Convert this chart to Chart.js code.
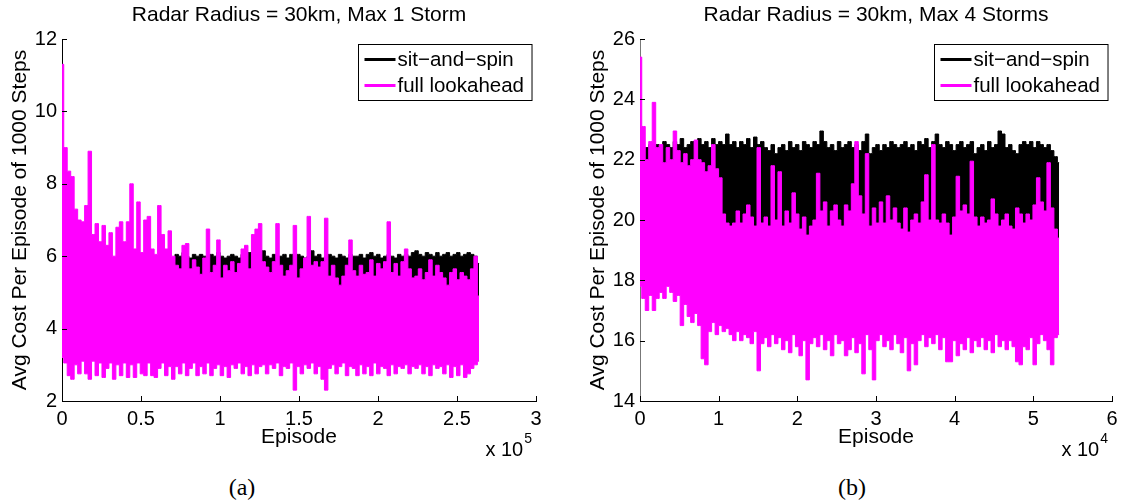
<!DOCTYPE html>
<html>
<head>
<meta charset="utf-8">
<script src="https://cdn.jsdelivr.net/npm/chart.js@4.4.1/dist/chart.umd.min.js"></script>
<style>
  body { margin: 0; background: #fff; width: 1123px; height: 503px; position: relative; overflow: hidden; }
  canvas { position: absolute; top: 0; }
  #chartA { left: 0; }
  #chartB { left: 578px; }
  .cap { position: absolute; top: 474px; width: 60px; margin-left: -30px; text-align: center;
         font-family: "Liberation Serif", "DejaVu Serif", serif; font-size: 24px; line-height: 26px; }
</style>
</head>
<body>
<canvas id="chartA" width="560" height="460"></canvas>
<canvas id="chartB" width="560" height="460"></canvas>
<div class="cap" style="left:242px">(a)</div>
<div class="cap" style="left:852px">(b)</div>

<script>
const seriesNames = ['sit−and−spin', 'full lookahead'];
const yTitle = 'Avg Cost Per Episode of 1000 Steps';

// (a) Max 1 Storm: one sample every 2200 episodes
const stepA = 2200;
const ssTopA = [
  5.8, 5.9, 5.9, 5.9, 5.9, 5.9, 5.9, 5.9, 5.9, 5.9,
  5.9, 5.9, 5.9, 5.9, 5.9, 5.9, 5.9, 5.9, 5.9, 5.9,
  5.9, 5.9, 5.9, 5.9, 5.9, 5.9, 5.9, 5.9, 5.9, 5.9,
  5.9, 5.9, 5.9, 6.05, 6.0, 6.1, 6.0, 5.95, 6.05, 6.0,
  6.05, 6.0, 5.95, 6.05, 6.0, 6.1, 6.0, 5.95, 6.0, 6.05,
  6.0, 5.95, 6.05, 6.0, 6.1, 6.05, 6.0, 6.05, 6.15, 6.0,
  5.95, 6.05, 6.0, 6.0, 6.05, 5.95, 6.05, 6.0, 6.05, 6.0,
  5.95, 6.0, 6.15, 6.0, 6.05, 5.95, 6.0, 6.05, 6.0, 5.95,
  6.05, 6.0, 5.95, 6.05, 6.0, 6.0, 6.05, 5.95, 6.05, 6.1,
  6.0, 6.05, 5.95, 6.0, 6.05, 6.0, 5.95, 6.05, 6.0, 6.05,
  6.0, 6.1, 6.15, 6.05, 6.0, 6.1, 6.05, 6.0, 6.1, 6.0,
  6.05, 6.1, 6.0, 6.05, 6.1, 6.0, 6.05, 6.1, 6.05, 6.0,
  5.8
];
const flTopA = [
  11.3, 9.0, 8.35, 8.2, 7.3, 7.0, 6.95, 7.4, 8.9, 6.6,
  6.9, 6.4, 6.85, 6.3, 6.65, 6.0, 6.8, 6.95, 6.4, 6.95,
  8.0, 6.2, 7.5, 6.1, 7.0, 7.1, 6.2, 6.05, 7.4, 6.6,
  6.2, 6.7, 6.0, 5.75, 5.65, 6.3, 6.35, 5.65, 5.9, 5.7,
  5.5, 5.95, 6.75, 5.55, 5.75, 6.45, 5.4, 5.75, 5.6, 5.85,
  5.55, 5.8, 6.2, 6.3, 5.65, 6.6, 6.75, 6.9, 5.85, 5.7,
  5.55, 5.85, 6.9, 5.75, 5.45, 5.6, 5.75, 6.85, 5.4, 5.65,
  5.95, 7.1, 5.75, 5.85, 5.7, 5.85, 7.05, 5.45, 5.75, 5.4,
  5.2, 5.45, 5.75, 6.45, 5.6, 5.45, 5.75, 5.5, 5.55, 5.9,
  5.45, 5.8, 5.65, 5.85, 6.95, 5.55, 5.8, 5.45, 5.85, 6.2,
  5.65, 5.4, 5.45, 5.65, 5.35, 5.55, 5.9, 5.45, 5.75, 5.55,
  5.4, 5.2, 5.55, 5.65, 5.35, 5.55, 5.45, 5.35, 5.65, 6.0,
  4.9
];
const flLowA = [
  3.2, 3.05, 2.7, 2.6, 3.0, 2.75, 3.1, 2.75, 2.6, 3.1,
  2.7, 3.05, 2.65, 2.9, 3.05, 2.6, 3.0, 2.7, 3.05, 2.65,
  3.0, 2.65, 3.05, 2.75, 2.7, 3.05, 2.7, 2.65, 2.9, 3.05,
  2.7, 2.95, 2.6, 2.95, 2.75, 3.05, 2.7, 2.9, 3.05, 2.7,
  2.95, 2.75, 3.05, 2.7, 2.9, 3.0, 2.7, 2.95, 2.65, 3.0,
  2.9, 3.05, 2.75, 2.95, 2.7, 3.0, 2.75, 2.95, 3.0, 2.75,
  3.0, 2.9, 3.05, 2.7, 2.95, 2.9, 3.05, 2.3, 2.95, 2.75,
  3.0, 2.9, 3.05, 2.75, 2.95, 2.6, 2.3, 2.9, 3.0, 2.75,
  2.95, 3.05, 2.7, 2.95, 2.9, 2.7, 3.0, 2.75, 2.95, 2.7,
  3.05, 2.75, 2.95, 2.9, 2.7, 3.0, 2.75, 2.95, 2.9, 3.0,
  2.75, 2.95, 2.9, 3.0, 2.75, 2.95, 2.7, 3.0, 2.9, 2.95,
  2.75, 3.0, 2.65, 2.95, 2.7, 3.0, 2.65, 2.75, 2.9, 3.0,
  3.1
];
const ssFloorA = 4.0;

// (b) Max 4 Storms: one sample every 444 episodes
const stepB = 444;
const ssTopB = [
  22.1, 22.3, 22.4, 22.5, 22.3, 22.5, 22.4, 22.6, 22.5, 22.4,
  22.6, 22.5, 22.7, 22.4, 22.5, 22.6, 22.4, 22.7, 22.5, 22.6,
  22.4, 22.7, 22.5, 22.6, 22.5, 22.85, 22.5, 22.6, 22.4, 22.6,
  22.5, 22.7, 22.4, 22.75, 22.5, 22.6, 22.4, 22.3, 22.5, 22.2,
  22.4, 22.5, 22.3, 22.6, 22.4, 22.5, 22.3, 22.6, 22.5, 22.4,
  22.6, 22.5, 22.95, 22.6, 22.4, 22.5, 22.3, 22.6, 22.4, 22.5,
  22.6, 22.4, 22.5, 22.3, 22.6, 22.85, 22.2, 22.4, 22.5, 22.3,
  22.5, 22.4, 22.6, 22.5, 22.4, 22.5, 22.6, 22.4, 22.5, 22.3,
  22.6, 22.5, 22.7, 22.4, 22.6, 22.85, 22.5, 22.4, 22.6, 22.5,
  22.3, 22.5, 22.6, 22.4, 22.5, 22.6, 22.2, 22.4, 22.5, 22.3,
  22.6, 22.4, 22.5, 22.95, 22.85, 22.4, 22.5, 22.3, 22.2, 22.5,
  22.6, 22.5, 22.6, 22.4, 22.6, 22.5, 22.4, 22.5, 22.3, 22.1,
  21.9
];
const flTopB = [
  25.4, 23.1, 22.0, 22.6, 23.9, 22.4, 22.5, 21.9, 22.4, 22.0,
  22.95, 22.3, 21.9, 22.2, 21.8, 22.0, 22.65, 22.0, 21.9, 21.6,
  21.8, 22.5, 21.7, 21.4, 20.2, 19.9, 19.8, 19.9, 20.3, 19.9,
  20.2, 20.5, 20.1, 19.8, 22.4, 19.9, 20.1, 19.8, 21.8, 20.0,
  21.6, 19.8, 20.3, 19.9, 20.9, 20.2, 19.7, 20.1, 19.5, 19.8,
  20.0, 21.55, 20.3, 20.6, 19.8, 20.3, 20.5, 20.0, 19.8, 20.5,
  20.3, 21.2, 22.6, 20.8, 20.2, 22.2, 19.8, 20.4, 19.9, 20.6,
  19.9, 20.8, 20.0, 20.4, 19.9, 19.7, 20.4, 19.6, 20.0, 20.2,
  19.9, 20.6, 21.5, 20.0, 22.5, 20.0, 19.9, 20.2, 19.9, 19.5,
  20.1, 21.45, 20.3, 20.5, 20.2, 21.95, 20.1, 19.8, 20.1, 19.9,
  20.0, 20.7, 20.2, 19.8, 20.0, 20.2, 19.8, 19.7, 20.4, 20.2,
  19.9, 20.2, 20.0, 20.5, 21.4, 20.6, 20.3, 21.9, 20.4, 19.7,
  19.4
];
const flLowB = [
  17.8, 17.4, 17.0, 17.5, 17.0, 17.4, 17.6, 17.4, 17.8, 17.6,
  17.3, 17.5, 16.5, 17.2, 16.8, 16.6, 16.9, 16.5, 15.4, 15.2,
  16.3, 16.6, 16.2, 16.5, 16.3, 16.4, 16.2, 16.0, 16.3, 16.0,
  16.2, 16.1, 15.9, 16.3, 15.0, 15.9, 16.1, 15.8, 16.2, 15.9,
  16.1, 15.7, 16.0, 15.6, 16.2, 15.8, 15.5, 16.0, 14.7, 15.9,
  16.1, 15.8, 16.2, 15.7, 16.0, 15.5, 16.2, 15.9, 16.0, 15.5,
  15.7, 16.1, 15.6, 15.9, 14.9, 16.2, 15.7, 14.7, 16.0, 16.2,
  15.8, 16.0, 15.7, 16.2, 15.9, 15.6, 16.1, 15.0, 15.9, 15.2,
  16.0, 16.2, 15.8, 16.1, 15.9, 16.2, 15.7, 16.1, 15.3, 15.3,
  16.0, 15.5, 15.9, 15.7, 16.1, 15.6, 16.0, 15.8, 16.1, 15.7,
  16.0, 15.6, 16.2, 15.8, 16.0, 15.7, 16.0, 15.8, 15.3, 15.2,
  15.8, 15.7, 16.1, 15.2, 15.9, 16.2, 16.0, 15.7, 15.2, 16.1,
  16.2
];
const ssFloorB = 18.5;

const FONT = '"Liberation Sans", Arial, Helvetica, sans-serif';
const MAGENTA = '#ff00ff';

function toPoints(values, step) {
  return values.map((v, i) => ({ x: i * step, y: v }));
}

// inward tick marks, titles, exponent label and the boxed legend
const decor = {
  id: 'decor',
  afterDraw(chart, args, o) {
    const { ctx, chartArea: a, scales: { x, y } } = chart;
    ctx.save();
    ctx.strokeStyle = '#000';
    ctx.lineWidth = 1;
    ctx.beginPath();
    x.ticks.forEach(t => {
      const px = Math.round(x.getPixelForValue(t.value)) + 0.5;
      ctx.moveTo(px, a.bottom);
      ctx.lineTo(px, a.bottom - 5);
    });
    y.ticks.forEach(t => {
      const py = Math.round(y.getPixelForValue(t.value)) + 0.5;
      ctx.moveTo(a.left, py);
      ctx.lineTo(a.left + 5, py);
    });
    ctx.stroke();

    const cx = (a.left + a.right) / 2;
    ctx.fillStyle = '#000';
    ctx.font = '21px ' + FONT;
    ctx.textAlign = 'center';
    ctx.textBaseline = 'middle';
    ctx.fillText(o.title, cx, 15);
    ctx.fillText('Episode', cx, 437);

    // x 10^n
    ctx.textAlign = 'right';
    ctx.textBaseline = 'alphabetic';
    ctx.font = '14px ' + FONT;
    ctx.fillText(o.exponent, a.right - 4, 443);
    const ew = ctx.measureText(o.exponent).width;
    ctx.font = '20px ' + FONT;
    ctx.fillText('x 10', a.right - 4 - ew - 1, 456);

    ctx.save();
    ctx.font = '21px ' + FONT;
    ctx.translate(a.left - 42, (a.top + a.bottom) / 2);
    ctx.rotate(-Math.PI / 2);
    ctx.textAlign = 'center';
    ctx.textBaseline = 'middle';
    ctx.fillText(yTitle, 0, 0);
    ctx.restore();

    // legend box
    ctx.font = '20.5px ' + FONT;
    const tw = Math.max(...seriesNames.map(n => ctx.measureText(n).width));
    const w = tw + 47, h = 56;
    const bx = Math.round(a.right - 4 - w) + 0.5, by = Math.round(a.top + 5) + 0.5;
    ctx.fillStyle = '#fff';
    ctx.fillRect(bx, by, w, h);
    ctx.strokeStyle = '#000';
    ctx.lineWidth = 1;
    ctx.strokeRect(bx, by, w, h);
    const colors = ['#000', MAGENTA];
    seriesNames.forEach((n, i) => {
      const ly = by + 15 + i * 26;
      ctx.strokeStyle = colors[i];
      ctx.lineWidth = 3;
      ctx.beginPath();
      ctx.moveTo(bx + 6, ly);
      ctx.lineTo(bx + 37, ly);
      ctx.stroke();
      ctx.fillStyle = '#000';
      ctx.textAlign = 'left';
      ctx.textBaseline = 'middle';
      ctx.fillText(n, bx + 39, ly + 1);
    });
    ctx.restore();
  }
};

function makeChart(id, p) {
  const tickFont = { family: FONT, size: 20 };
  const band = { borderWidth: 1, pointRadius: 0, stepped: 'middle', borderJoinStyle: 'round' };
  return new Chart(document.getElementById(id), {
    type: 'line',
    data: {
      datasets: [
        { ...band, label: seriesNames[1], data: toPoints(p.flTop, p.step), borderColor: MAGENTA,
          backgroundColor: MAGENTA, fill: '+1' },
        { ...band, label: 'low', data: toPoints(p.flLow, p.step), borderColor: MAGENTA, fill: false },
        { ...band, label: seriesNames[0], data: toPoints(p.ssTop, p.step), borderColor: '#000',
          backgroundColor: '#000', fill: { value: p.ssFloor } }
      ]
    },
    options: {
      responsive: false,
      animation: false,
      devicePixelRatio: 1,
      layout: { padding: { top: 39, right: p.padRight, bottom: 29, left: 0 } },
      plugins: {
        legend: { display: false },
        tooltip: { enabled: false },
        decor: { title: p.title, exponent: p.exponent }
      },
      scales: {
        x: {
          type: 'linear', min: 0, max: p.xMax,
          afterFit: s => { s.height = 30; },
          grid: { display: false, drawTicks: false },
          border: { display: true, color: '#000', width: 1 },
          ticks: { stepSize: p.xStep, autoSkip: false, maxRotation: 0, padding: 6, color: '#000', font: tickFont,
                   callback: v => String(+(v / p.xUnit).toFixed(2)) }
        },
        y: {
          min: p.yMin, max: p.yMax,
          afterFit: s => { s.width = 62; },
          grid: { display: false, drawTicks: false },
          border: { display: true, color: p.yAxisColor, width: 1 },
          ticks: { stepSize: 2, padding: 5, color: '#000', font: tickFont }
        }
      }
    },
    plugins: [decor]
  });
}

makeChart('chartA', {
  title: 'Radar Radius = 30km, Max 1 Storm', exponent: '5', padRight: 24,
  step: stepA, ssTop: ssTopA, flTop: flTopA, flLow: flLowA, ssFloor: ssFloorA,
  xMax: 300000, xStep: 50000, xUnit: 1e5, yMin: 2, yMax: 12, yAxisColor: '#000'
});
makeChart('chartB', {
  title: 'Radar Radius = 30km, Max 4 Storms', exponent: '4', padRight: 26,
  step: stepB, ssTop: ssTopB, flTop: flTopB, flLow: flLowB, ssFloor: ssFloorB,
  xMax: 60000, xStep: 10000, xUnit: 1e4, yMin: 14, yMax: 26, yAxisColor: '#777'
});
</script>
</body>
</html>
